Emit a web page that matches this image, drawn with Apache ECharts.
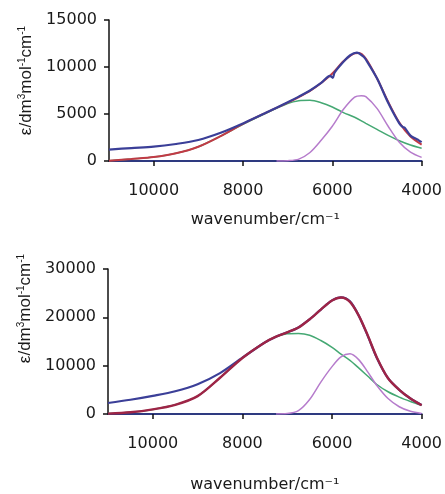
<!DOCTYPE html>
<html>
<head>
<meta charset="utf-8">
<script src="https://cdn.jsdelivr.net/npm/echarts@6/dist/echarts.min.js"></script>
<style>
  html, body { margin: 0; padding: 0; background: #fff; }
  #chart { width: 445px; height: 494px; }
</style>
</head>
<body>
<div id="chart"></div>
<script>
// x ticks shown on both panels
const xTicks = [4000, 6000, 8000, 10000];

// top panel: measured spectrum (blue), fit sum (red), two bands
const wnTopBlue = [11000, 10500, 10000, 9500, 9000, 8500, 8000, 7500, 7000, 6750, 6500, 6250, 6050, 5990, 5950, 5750, 5600, 5450, 5300, 5250, 5000, 4750, 4500, 4420, 4380, 4250, 4120, 4080, 4000];
const topBlue = [1220, 1380, 1520, 1810, 2230, 3000, 4000, 5100, 6250, 6850, 7500, 8300, 9050, 8850, 9400, 10550, 11250, 11530, 11100, 10800, 8800, 6200, 4000, 3600, 3550, 2700, 2350, 2250, 2000];
const wnTopFit = [11000, 10500, 10000, 9500, 9000, 8500, 8000, 7500, 7000, 6750, 6500, 6250, 6000, 5750, 5500, 5400, 5250, 5000, 4750, 4500, 4250, 4000];
const topRed = [30, 220, 420, 820, 1520, 2650, 3950, 5100, 6200, 6800, 7450, 8300, 9300, 10600, 11450, 11500, 10900, 8800, 6300, 4100, 2600, 1750];
const wnTopGreen = [11000, 10500, 10000, 9500, 9000, 8500, 8000, 7500, 7000, 6750, 6500, 6250, 6000, 5750, 5500, 5250, 5000, 4750, 4500, 4250, 4000];
const topGreen = [30, 220, 420, 820, 1520, 2650, 3900, 5050, 6100, 6400, 6450, 6200, 5750, 5150, 4650, 4000, 3370, 2730, 2150, 1700, 1350];
const wnTopViolet = [7250, 7000, 6750, 6500, 6250, 6000, 5750, 5500, 5350, 5250, 5000, 4750, 4500, 4250, 4000];
const topViolet = [0, 30, 200, 900, 2200, 3700, 5500, 6800, 6950, 6850, 5600, 3700, 2000, 950, 390];

// bottom panel
const wnBottom = [11000, 10500, 10000, 9500, 9000, 8500, 8000, 7500, 7250, 7000, 6750, 6500, 6250, 6000, 5800, 5600, 5400, 5200, 5000, 4750, 4500, 4250, 4000];
const bottomBlue = [2280, 2950, 3760, 4700, 6150, 8450, 11650, 14800, 16000, 16900, 17900, 19600, 21600, 23500, 24150, 23300, 20300, 16100, 11600, 7400, 5000, 3200, 1850];
const bottomRed = [80, 350, 950, 1900, 3700, 7500, 11600, 14800, 16000, 16900, 17900, 19600, 21600, 23500, 24100, 23200, 20300, 16200, 11700, 7400, 5000, 3200, 1800];
const bottomGreen = [80, 350, 950, 1900, 3700, 7500, 11600, 14800, 16000, 16600, 16650, 16300, 15200, 13800, 12400, 11100, 9500, 7800, 6100, 4600, 3500, 2600, 1800];
const wnBottomViolet = [7250, 7000, 6750, 6500, 6250, 6000, 5800, 5600, 5400, 5200, 5000, 4750, 4500, 4250, 4000];
const bottomViolet = [0, 80, 700, 3000, 6600, 9800, 11800, 12450, 11200, 8650, 5900, 3200, 1500, 550, 100];

const FONT = 'DejaVu Sans';
const BLUE = '#3b3f98', RED = '#c23a45', DARKRED = '#9e2446', GREEN = '#45a873', VIOLET = '#b67ccc';

const pairs = (xs, ys) => xs.map((x, i) => [x, ys[i]]);

function xAxisFor(gridIndex, gap) {
  return {
    type: 'value', gridIndex: gridIndex, inverse: true,
    min: 4000, max: 11000, interval: 2000,
    name: 'wavenumber/cm⁻¹', nameLocation: 'middle', nameGap: gap,
    nameTextStyle: {fontFamily: FONT, fontSize: 16, color: '#1a1a1a'},
    axisLine: {onZero: false, lineStyle: {color: '#2e3a80', width: 2}},
    axisTick: {show: true, inside: false, length: 5, customValues: xTicks, lineStyle: {color: '#111', width: 1.5}},
    axisLabel: {customValues: xTicks, margin: 22, fontFamily: FONT, fontSize: 16, color: '#1a1a1a',
      formatter: v => String(v)},
    splitLine: {show: false}
  };
}

function yAxisFor(gridIndex, max, step, shift) {
  return {
    type: 'value', gridIndex: gridIndex, min: 0, max: max, interval: step,
    name: 'ε/dm{s|3}mol{s|-1}cm{s|-1}', nameLocation: 'middle', nameRotate: 90, nameGap: 73,
    nameTextStyle: {fontFamily: 'Liberation Sans', fontSize: 17, color: '#1a1a1a', padding: [0, 0, 0, shift],
      rich: {s: {fontFamily: 'Liberation Sans', fontSize: 10, color: '#1a1a1a', verticalAlign: 'top', padding: [0, 0, 8, 0]}}},
    axisLine: {show: true, lineStyle: {color: '#111', width: 1.5}},
    axisTick: {show: true, length: 5, lineStyle: {color: '#111', width: 1.5}},
    axisLabel: {margin: 12, fontFamily: FONT, fontSize: 16, color: '#1a1a1a', formatter: v => String(v)},
    splitLine: {show: false}
  };
}

function line(data, color, width, idx, z) {
  return {
    type: 'line', data: data, xAxisIndex: idx, yAxisIndex: idx,
    smooth: 0.3, showSymbol: false, silent: true, z: z,
    lineStyle: {color: color, width: width}
  };
}

const chart = echarts.init(document.getElementById('chart'));
chart.setOption({
  animation: false,
  backgroundColor: '#fff',
  grid: [
    {left: 109, width: 315, top: 20, height: 141},
    {left: 108, width: 316, top: 269, height: 149}
  ],
  xAxis: [xAxisFor(0, 51), xAxisFor(1, 63)],
  yAxis: [yAxisFor(0, 15000, 5000, 20), yAxisFor(1, 30000, 10000, 66)],
  series: [
    line(pairs(wnTopGreen, topGreen), GREEN, 1.5, 0, 2),
    line(pairs(wnTopViolet, topViolet), VIOLET, 1.5, 0, 2),
    line(pairs(wnTopFit, topRed), RED, 2, 0, 3),
    line(pairs(wnTopBlue, topBlue), BLUE, 2.2, 0, 4),
    line(pairs(wnBottom, bottomGreen), GREEN, 1.5, 1, 2),
    line(pairs(wnBottomViolet, bottomViolet), VIOLET, 1.5, 1, 2),
    line(pairs(wnBottom, bottomBlue), BLUE, 2.2, 1, 3),
    line(pairs(wnBottom, bottomRed), DARKRED, 2.4, 1, 4)
  ]
});
</script>
</body>
</html>
